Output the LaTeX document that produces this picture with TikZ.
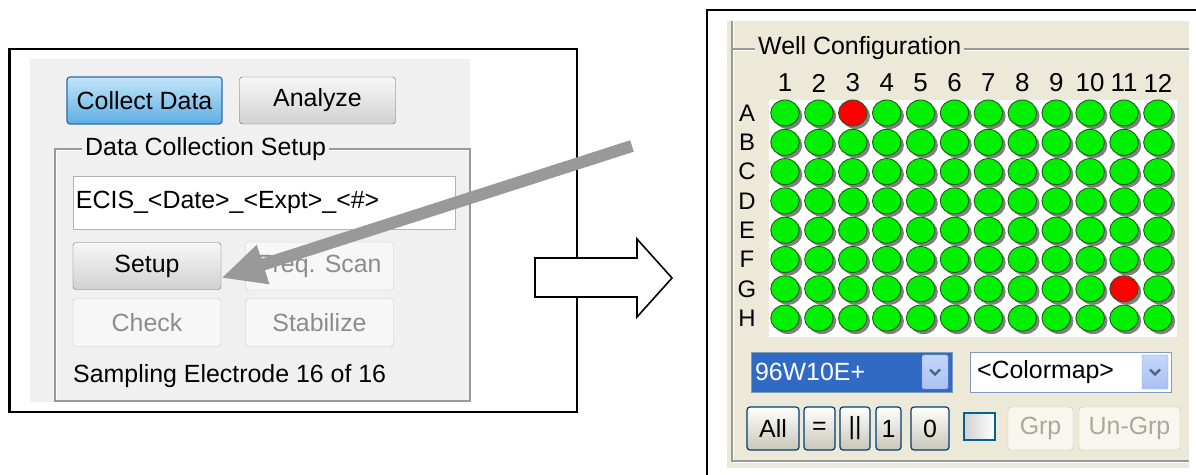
\documentclass[tikz,border=0pt]{standalone}
\usepackage{fontspec}
\setmainfont{Liberation Sans}
\usetikzlibrary{shapes.geometric,shadows,arrows.meta}

\definecolor{winbg}{HTML}{F0F0F0}
\definecolor{xpbg}{HTML}{ECE9D8}
\definecolor{xpedge}{HTML}{003C74}
\definecolor{xpoff}{HTML}{ACA899}
\definecolor{selblue}{HTML}{316AC5}
\definecolor{ddedge}{HTML}{7F9DB9}
\definecolor{ddhi}{HTML}{C6D6FA}
\definecolor{ddlo}{HTML}{A9C1F3}
\definecolor{chevron}{HTML}{4D6185}
\definecolor{wellfill}{HTML}{00F000}
\definecolor{welledge}{HTML}{1F5A1F}
\definecolor{pointergray}{HTML}{999999}
\definecolor{w7blue}{HTML}{2C6CA8}
\definecolor{w7hi}{HTML}{C4E5FA}
\definecolor{w7lo}{HTML}{5DAEE2}

\tikzset{
  guitxt/.style={font=\fontsize{25}{29}\selectfont},
  xptxt/.style={font=\fontsize{25}{29}\selectfont},
  w7btn/.style={guitxt, draw=black!60, rounded corners=3bp, top color=black!3,
    bottom color=black!18, minimum width=148bp, minimum height=47bp},
  w7on/.style={w7btn, draw=w7blue, line width=1.2bp, top color=w7hi, bottom color=w7lo,
    minimum width=155bp},
  w7off/.style={guitxt, draw=black!22, rounded corners=3bp, fill=black!3,
    text=black!45, minimum width=148bp, minimum height=48bp},
  xpbtn/.style={xptxt, draw=xpedge, line width=1.2bp, rounded corners=3bp,
    top color=white, bottom color=xpbg!85!black, minimum height=43bp},
  xpoffbtn/.style={xptxt, draw=xpoff!70, rounded corners=3bp, fill=xpbg!40,
    text=xpoff, minimum height=43bp},
  dropbox/.style={xptxt, draw=ddedge, minimum width=201bp, minimum height=40bp,
    align=left},
  dropbtn/.style={draw=ddhi!70!blue, top color=ddhi, bottom color=ddlo,
    rounded corners=1.5bp, minimum width=26bp, minimum height=34bp},
  chev/.style={draw=chevron, line width=2.2bp},
  well/.style={ellipse, draw=welledge, line width=0.9bp, fill=wellfill,
    minimum width=28.5bp, minimum height=26bp,
    drop shadow={shadow xshift=3bp, shadow yshift=-3bp, fill=black!50, opacity=1}},
  hot-A3/.style={fill=red},
  hot-G11/.style={fill=red},
  etch/.style={draw=black!40, line width=1.3bp},
  etchhi/.style={draw=white, line width=1bp},
  frame/.style={draw=black, line width=2.2bp},
  pointer/.style={draw=pointergray, line width=12bp,
    -{Triangle[length=44bp,width=38bp]}}
}

\begin{document}
\begin{tikzpicture}[x=1bp,y=-1bp, every node/.style={inner sep=0pt}]
  \useasboundingbox (0,0) rectangle (1196,475);

  % left screenshot
  \fill[winbg] (30,59) rectangle (470,402);
  \node[w7on] (collect) at (144.5,100.5) {Collect Data};
  \node[w7btn, minimum width=156bp] (analyze) at (317.5,100.5) {Analyze};
  \draw[etchhi] (56.5,150.5) rectangle (471,402.5);
  \draw[etch] (55,149) rectangle (470,401);
  \node[guitxt, fill=winbg, inner xsep=3bp, anchor=west] (setup-box) at (82,149) {Data Collection Setup};
  \node[guitxt, draw=black!30, fill=white, inner xsep=3bp, text width=376bp,
    minimum height=53bp, align=left] (fname) at (264,202.5) {ECIS\_<Date>\_<Expt>\_<\#>};
  \node[w7btn] (setup) at (147,266) {Setup};
  \node[w7off] (freq) at (319.5,266) {Freq. Scan};
  \node[w7off] (check) at (147,322.5) {Check};
  \node[w7off] (stab) at (319.5,322.5) {Stabilize};
  \node[guitxt, anchor=west] (status) at (73,376) {Sampling Electrode 16 of 16};

  % right screenshot
  \fill[xpbg] (727,21) rectangle (1189,468);
  \draw[etchhi] (733.5,21) -- (733.5,462.5) -- (1189,462.5);
  \draw[etchhi] (733.5,50.5) -- (1189,50.5);
  \draw[etch] (732,21) -- (732,461) -- (1189,461);
  \draw[etch] (732,49) -- (1189,49);
  \node[xptxt, fill=xpbg, inner xsep=3bp, anchor=west] (wellcfg) at (755,48) {Well Configuration};
  \fill[white] (769,100) rectangle (1177,337);
  \foreach \col in {1,...,12}
    \node[font=\fontsize{26}{30}\selectfont] (c-\col) at (785+33.9*\col-33.9,83) {\col};
  \foreach \row [count=\i from 0] in {A,B,C,D,E,F,G,H} {
    \node[font=\fontsize{24}{28}\selectfont] (r-\row) at (747,113+29.3*\i) {\row};
    \foreach \col in {1,...,12}
      \node[well, hot-\row\col/.try] (w-\row\col) at (785+33.9*\col-33.9,113+29.3*\i) {};
  }

  \node[dropbox, fill=selblue, text=white, inner xsep=4bp, text width=193bp] (plate) at (851.5,372) {96W10E+};
  \node[dropbtn] (plate-btn) at (935,372) {};
  \draw[chev] ([xshift=-5bp,yshift=2.5bp]plate-btn.center) -- ([yshift=-2.5bp]plate-btn.center)
    -- ([xshift=5bp,yshift=2.5bp]plate-btn.center);
  \node[dropbox, fill=white, inner xsep=7bp, text width=187bp] (cmap) at (1070.5,372) {<Colormap>};
  \node[dropbtn] (cmap-btn) at (1155,372) {};
  \draw[chev] ([xshift=-5bp,yshift=2.5bp]cmap-btn.center) -- ([yshift=-2.5bp]cmap-btn.center)
    -- ([xshift=5bp,yshift=2.5bp]cmap-btn.center);

  \node[xpbtn, minimum width=52bp] (all) at (773,428.5) {All};
  \node[xpbtn, minimum width=31bp] (eq) at (819.5,428.5) {=};
  \node[xpbtn, minimum width=30bp] (par) at (855,428.5) {||};
  \node[xpbtn, minimum width=25bp] (one) at (888.5,428.5) {1};
  \node[xpbtn, minimum width=38bp] (zero) at (930,428.5) {0};
  \node[draw=xpedge!80!cyan, line width=1.2bp, left color=black!18, right color=white,
    minimum width=31bp, minimum height=27bp] (tick) at (979.5,426.5) {};
  \node[xpoffbtn, minimum width=65bp] (grp) at (1040.5,428.5) {Grp};
  \node[xpoffbtn, minimum width=101bp] (ungrp) at (1129.5,428.5) {Un-Grp};

  % frames
  \draw[frame] (9.5,49) rectangle (577,412);
  \draw[frame] (707,475) -- (707,10) -- (1196,10);

  % block arrow between the two views
  \draw[fill=white, line width=1.6bp, line join=miter]
    (535,258) -- (637,258) -- (637,239) -- (672,278) -- (637,317) -- (637,297) -- (535,297) -- cycle;

  % pointer onto Setup
  \coordinate (src) at (632,146);
  \draw[pointer] (src) -- ([yshift=-12bp]setup.east);
\end{tikzpicture}
\end{document}
